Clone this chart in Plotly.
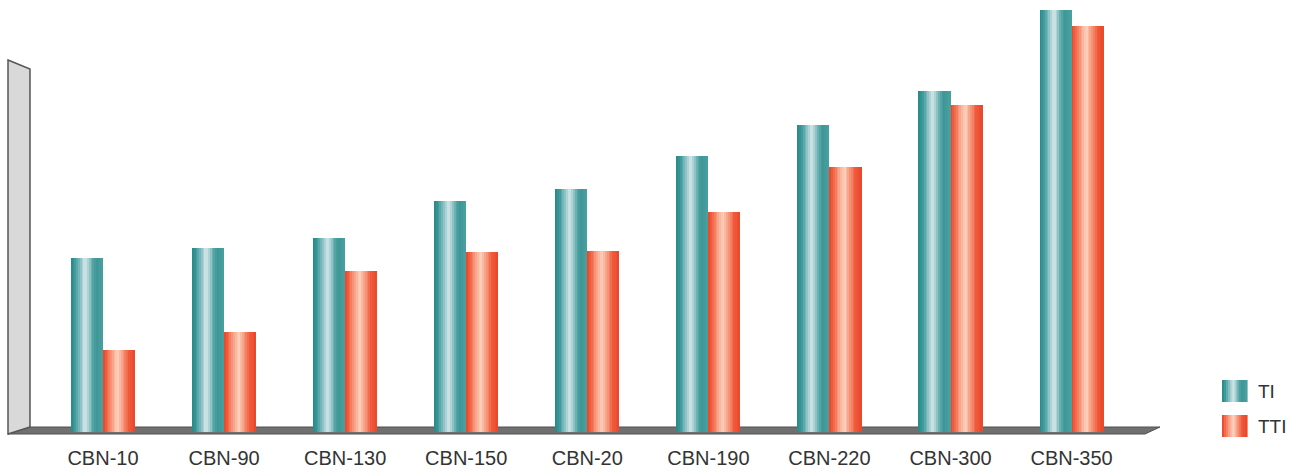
import plotly.graph_objects as go

categories = ["CBN-10", "CBN-90", "CBN-130", "CBN-150", "CBN-20", "CBN-190", "CBN-220", "CBN-300", "CBN-350"]
ti_values = [174, 184, 194, 231, 243, 276, 307, 341, 422]
tti_values = [82, 100, 161, 180, 181, 220, 265, 327, 406]
series_names = ["TI", "TTI"]

# gradient stops (fraction across bar, colour)
ti_stops = [(0.0, (40, 135, 135)), (0.12, (58, 152, 152)), (0.27, (125, 185, 188)),
            (0.44, (214, 231, 234)), (0.54, (170, 208, 210)), (0.66, (92, 170, 170)),
            (0.78, (62, 150, 150)), (1.0, (75, 160, 160))]
tti_stops = [(0.0, (236, 66, 36)), (0.15, (244, 110, 80)), (0.33, (248, 175, 150)),
             (0.46, (251, 210, 192)), (0.6, (247, 160, 132)), (0.8, (240, 90, 60)),
             (1.0, (232, 70, 42))]


def interp(stops, t):
    for (t0, c0), (t1, c1) in zip(stops[:-1], stops[1:]):
        if t0 <= t <= t1:
            f = (t - t0) / (t1 - t0) if t1 > t0 else 0
            return "rgb(%d,%d,%d)" % tuple(round(a + (b - a) * f) for a, b in zip(c0, c1))
    return "rgb(%d,%d,%d)" % stops[-1][1]


BAR_W = 0.265
N = 18
fig = go.Figure()
for name, vals, stops, base_off in [
    ("TI", ti_values, ti_stops, -BAR_W),
    ("TTI", tti_values, tti_stops, 0.0),
]:
    for k in range(N):
        start = k / N
        t = (k + 0.5) / N
        fig.add_trace(go.Bar(
            x=categories, y=vals, name=name,
            offset=base_off + start * BAR_W,
            width=BAR_W * (1 - start),
            marker=dict(color=interp(stops, t), line=dict(width=0)),
            showlegend=False, legendgroup=name,
        ))

L, R_PX, TOP, BOT = 10, 1160, 0, 432
PW, PH = R_PX - L, BOT - TOP


def px(x, y):
    return (x - L) / PW, (BOT - y) / PH


def path(points):
    pts = [px(x, y) for x, y in points]
    return "M " + " L ".join("%f,%f" % p for p in pts) + " Z"


shapes = [
    dict(type="path", xref="paper", yref="paper", layer="below",
         path=path([(8, 434), (30, 427), (1160, 427), (1145, 434)]),
         fillcolor="#707070", line=dict(color="#505050", width=1)),
    dict(type="path", xref="paper", yref="paper", layer="below",
         path=path([(8, 60), (30, 69), (30, 427), (8, 434)]),
         fillcolor="#d9d9d9", line=dict(color="#555555", width=1.5)),
]

# custom legend: gradient swatches + text
annotations = []
for i, (name, stops) in enumerate(zip(series_names, [ti_stops, tti_stops])):
    y0 = 380 + i * 35
    x0, x1 = 1222, 1247
    M = 12
    for k in range(M):
        xa = x0 + (x1 - x0) * k / M
        xb = x0 + (x1 - x0) * (k + 1) / M + 0.6
        p0 = px(xa, y0 + 22)
        p1 = px(xb, y0)
        shapes.append(dict(type="rect", xref="paper", yref="paper",
                           x0=p0[0], y0=p0[1], x1=p1[0], y1=p1[1],
                           fillcolor=interp(stops, (k + 0.5) / M), line=dict(width=0)))
    tx, ty = px(1256, y0 + 11)
    annotations.append(dict(xref="paper", yref="paper", x=tx, y=ty, text=name,
                            showarrow=False, xanchor="left", yanchor="middle",
                            font=dict(size=19, color="#333333")))

fig.update_layout(
    width=1304, height=474,
    margin=dict(l=L, r=1304 - R_PX, t=TOP, b=474 - BOT, autoexpand=False),
    paper_bgcolor="white", plot_bgcolor="white",
    barmode="overlay", bargap=0,
    font=dict(family="Liberation Sans, Arial, sans-serif", size=20, color="#333333"),
    xaxis=dict(range=[-0.768, 8.73], showgrid=False, zeroline=False, showline=False,
               ticks="", ticklabelstandoff=12, tickfont=dict(size=20, color="#333333")),
    yaxis=dict(range=[0, 432], visible=False),
    showlegend=False,
    shapes=shapes,
    annotations=annotations,
)

fig.write_html("out.html", config={"displayModeBar": False},
               post_script="document.body.style.margin='0';document.body.style.overflow='hidden';")
